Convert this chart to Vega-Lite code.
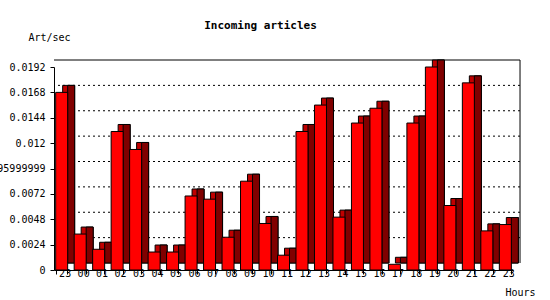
{
  "$schema": "https://vega.github.io/schema/vega-lite/v6.json",
  "width": 459,
  "height": 203,
  "autosize": {"type": "none"},
  "padding": {"left": 54, "top": 67, "right": 37, "bottom": 30},
  "background": "white",
  "config": {"view": {"stroke": null}, "font": "DejaVu Sans Mono"},
  "title": {"text": "Incoming articles", "font": "DejaVu Sans Mono", "fontSize": 11, "fontWeight": "bold", "color": "black", "anchor": "middle", "dx": -23, "offset": 1},
  "datasets": {
    "rates": [
      {"hour": "23p", "rate": 0.0168},
      {"hour": "00", "rate": 0.0034},
      {"hour": "01", "rate": 0.00196},
      {"hour": "02", "rate": 0.0131},
      {"hour": "03", "rate": 0.0114},
      {"hour": "04", "rate": 0.0017},
      {"hour": "05", "rate": 0.0017},
      {"hour": "06", "rate": 0.0070},
      {"hour": "07", "rate": 0.0067},
      {"hour": "08", "rate": 0.0031},
      {"hour": "09", "rate": 0.0084},
      {"hour": "10", "rate": 0.0044},
      {"hour": "11", "rate": 0.0014},
      {"hour": "12", "rate": 0.0131},
      {"hour": "13", "rate": 0.0156},
      {"hour": "14", "rate": 0.0050},
      {"hour": "15", "rate": 0.0139},
      {"hour": "16", "rate": 0.0153},
      {"hour": "17", "rate": 0.00054},
      {"hour": "18", "rate": 0.0139},
      {"hour": "19", "rate": 0.0192},
      {"hour": "20", "rate": 0.0061},
      {"hour": "21", "rate": 0.0177},
      {"hour": "22", "rate": 0.0037},
      {"hour": "23", "rate": 0.0043}
    ],
    "grid": [
      {"v": 0.0024}, {"v": 0.0048}, {"v": 0.0072}, {"v": 0.0096},
      {"v": 0.012}, {"v": 0.0144}, {"v": 0.0168}
    ]
  },
  "encoding": {
    "y": {
      "type": "quantitative",
      "title": "Art/sec",
      "scale": {"domain": [0, 0.0192], "nice": false, "zero": true},
      "axis": {
        "title": "Art/sec", "titleAngle": 0, "titleAlign": "left", "titleBaseline": "middle", "titleX": -26, "titleY": -30,
        "titleFont": "DejaVu Sans Mono", "titleFontSize": 10, "titleFontWeight": "normal", "titleColor": "black",
        "values": [0, 0.0024, 0.0048, 0.0072, 0.0096, 0.012, 0.0144, 0.0168, 0.0192],
        "labelExpr": "abs(datum.value - 0.0096) < 1e-9 ? '0.0095999999' : format(datum.value, '.4~f')",
        "labelFont": "DejaVu Sans Mono", "labelFontSize": 10, "labelColor": "black", "labelPadding": 5,
        "tickSize": 4, "tickColor": "black", "domainColor": "black", "grid": false, "labelOverlap": false, "labelBound": false
      }
    }
  },
  "layer": [
    {
      "data": {"name": "grid"},
      "mark": {"type": "rule", "strokeDash": [2, 3], "color": "black", "xOffset": 7, "yOffset": -7},
      "encoding": {
        "y": {"field": "v"}
      }
    },
    {
      "data": {"values": [{}]},
      "mark": {"type": "rule", "color": "black", "xOffset": 7, "yOffset": -7},
      "encoding": {
        "y": {"datum": 0.0192}
      }
    },
    {
      "data": {"name": "rates"},
      "mark": {"type": "bar", "width": 12, "xOffset": 7, "yOffset": -7, "y2Offset": -7, "fill": "#c00000", "stroke": "black", "strokeWidth": 1},
      "encoding": {
        "x": {"field": "hour", "type": "nominal", "sort": null, "title": "Hours"},
        "y": {"field": "rate"}
      }
    },
    {
      "data": {"name": "rates"},
      "mark": {"type": "bar", "width": 7, "xOffset": 9.5, "yOffset": -7, "fill": "#800000", "stroke": "black", "strokeWidth": 1},
      "encoding": {
        "x": {"field": "hour", "type": "nominal", "sort": null, "title": "Hours"},
        "y": {"field": "rate"}
      }
    },
    {
      "data": {"name": "rates"},
      "mark": {"type": "bar", "width": 12, "fill": "#ff0000", "stroke": "black", "strokeWidth": 1},
      "encoding": {
        "x": {
          "field": "hour", "type": "nominal", "sort": null, "title": "Hours",
          "scale": {"domain": ["23p","00","01","02","03","04","05","06","07","08","09","10","11","12","13","14","15","16","17","18","19","20","21","22","23"], "paddingInner": 0.37, "paddingOuter": 0.1},
          "axis": {
            "title": "Hours", "titleX": 451, "titleY": 22, "titleAlign": "left", "titleBaseline": "middle",
            "titleFont": "DejaVu Sans Mono", "titleFontSize": 10, "titleFontWeight": "normal", "titleColor": "black",
            "labelExpr": "isValid(datum.value) ? substring(datum.value, 0, 2) : ''", "labelAngle": 0, "labelFont": "DejaVu Sans Mono", "labelFontSize": 10, "labelColor": "black",
            "labelPadding": -1, "labelOffset": 9, "tickSize": 4, "tickBand": "extent", "tickColor": "black", "domainColor": "black", "grid": false
          }
        },
        "y": {"field": "rate"}
      }
    },
    {
      "data": {"name": "rates"},
      "transform": [{"filter": "datum.hour == '23'"}],
      "mark": {"type": "rule", "color": "black", "xOffset": 14.7, "yOffset": -7, "y2Offset": -7},
      "encoding": {
        "x": {"field": "hour", "type": "nominal", "title": "Hours"},
        "y": {"datum": 0},
        "y2": {"datum": 0.0192}
      }
    }
  ]
}
